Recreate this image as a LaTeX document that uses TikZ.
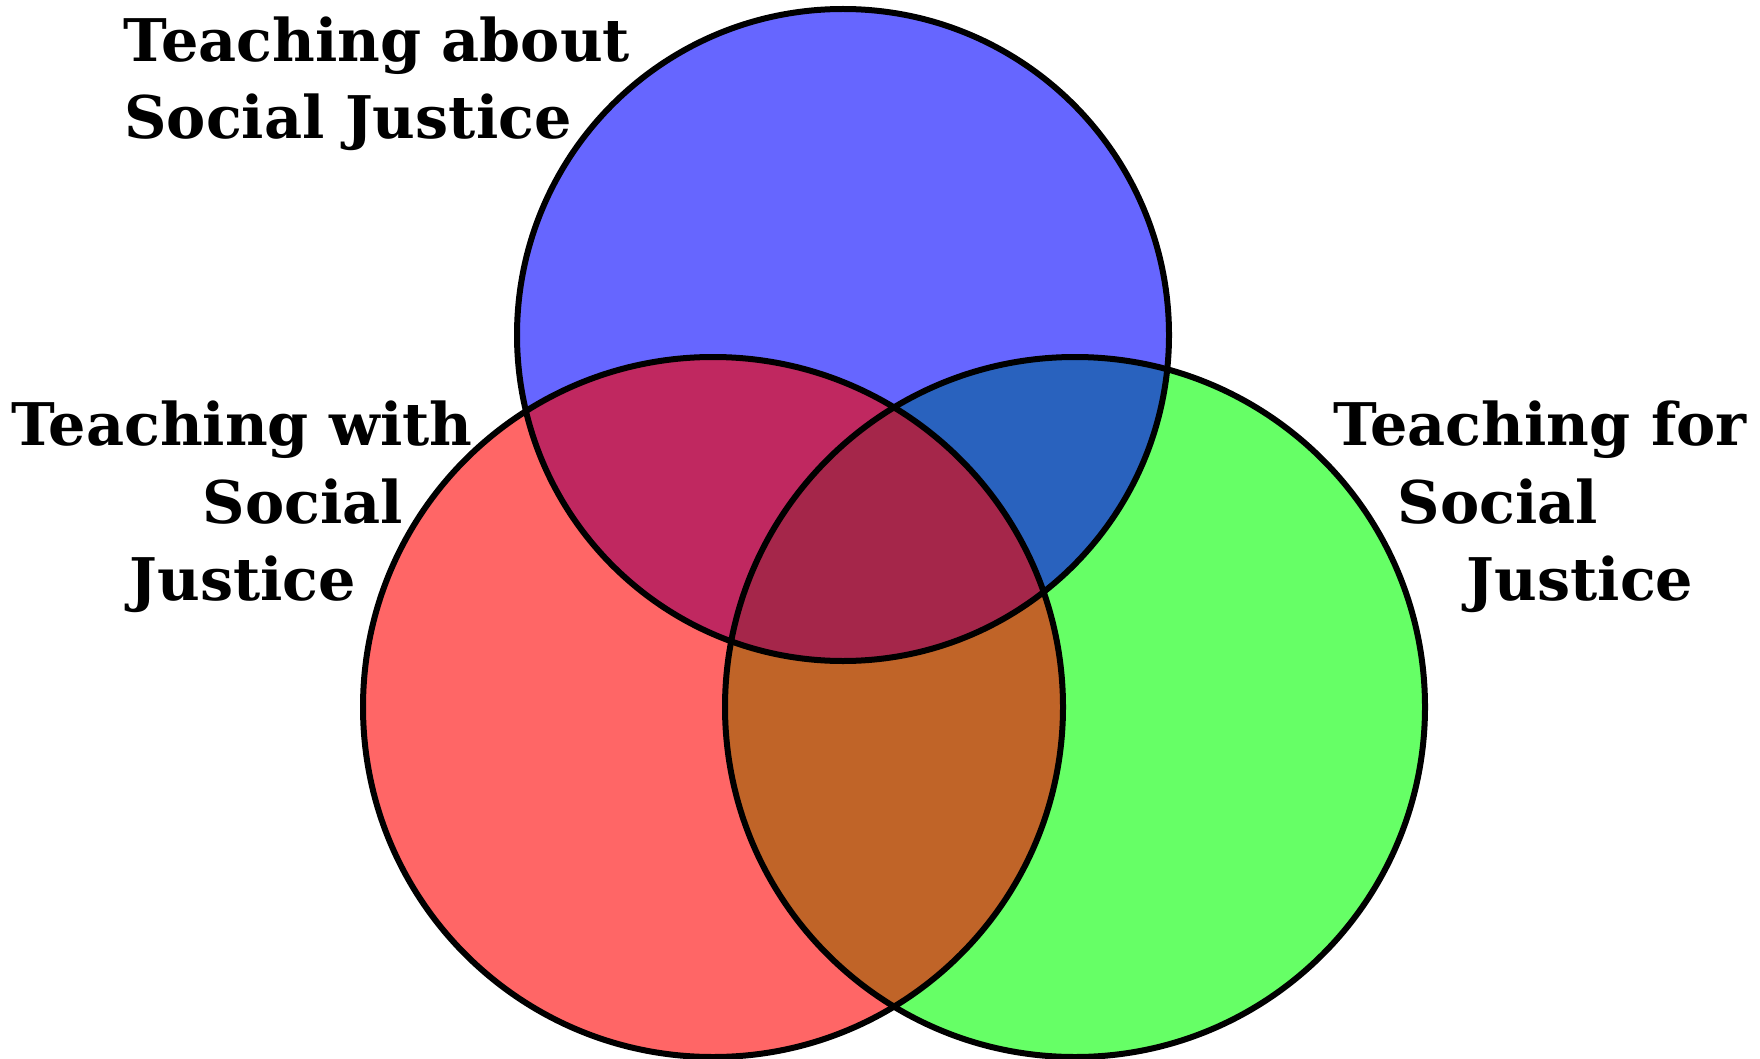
\documentclass[tikz,border=0pt]{standalone}
\usepackage{fontspec}
\setmainfont{DejaVu Serif}
\definecolor{cblue}{HTML}{6666FF}
\definecolor{cred}{HTML}{FF6666}
\definecolor{cgreen}{HTML}{66FF66}
\definecolor{crb}{HTML}{C02860}
\definecolor{cbg}{HTML}{2962BE}
\definecolor{crg}{HTML}{C06428}
\definecolor{crgb}{HTML}{A5264A}
\tikzset{
  lbl/.style={anchor=base, inner sep=0pt, font=\fontsize{29.4}{38.5}\selectfont\bfseries},
  ring/.style={draw=black, line width=3pt}
}
\begin{document}
\begin{tikzpicture}[x=0.5pt, y=-0.5pt]
\useasboundingbox (0,0) rectangle (1760,1059);
\def\blueC{(843,335) circle [radius=326]}
\def\redC{(713,707) circle [radius=350]}
\def\greenC{(1075,707) circle [radius=350]}
\fill[cblue] \blueC;
\fill[cred] \redC;
\fill[cgreen] \greenC;
\begin{scope}\clip \redC; \fill[crb] \blueC; \end{scope}
\begin{scope}\clip \greenC; \fill[cbg] \blueC; \end{scope}
\begin{scope}\clip \redC; \fill[crg] \greenC; \end{scope}
\begin{scope}\clip \redC; \clip \greenC; \fill[crgb] \blueC; \end{scope}
\draw[ring] \blueC;
\draw[ring] \redC;
\draw[ring] \greenC;
\node[lbl] (ta1) at (377,62) {Teaching about};
\node[lbl] (ta2) at (348,139) {Social Justice};
\node[lbl] (tw1) at (242,445) {Teaching with};
\node[lbl] (tw2) at (303,523) {Social};
\node[lbl] (tw3) at (243,600) {Justice};
\node[lbl] (tf1) at (1540,445) {Teaching for};
\node[lbl] (tf2) at (1498,523) {Social};
\node[lbl] (tf3) at (1580,600) {Justice};
\end{tikzpicture}
\end{document}
